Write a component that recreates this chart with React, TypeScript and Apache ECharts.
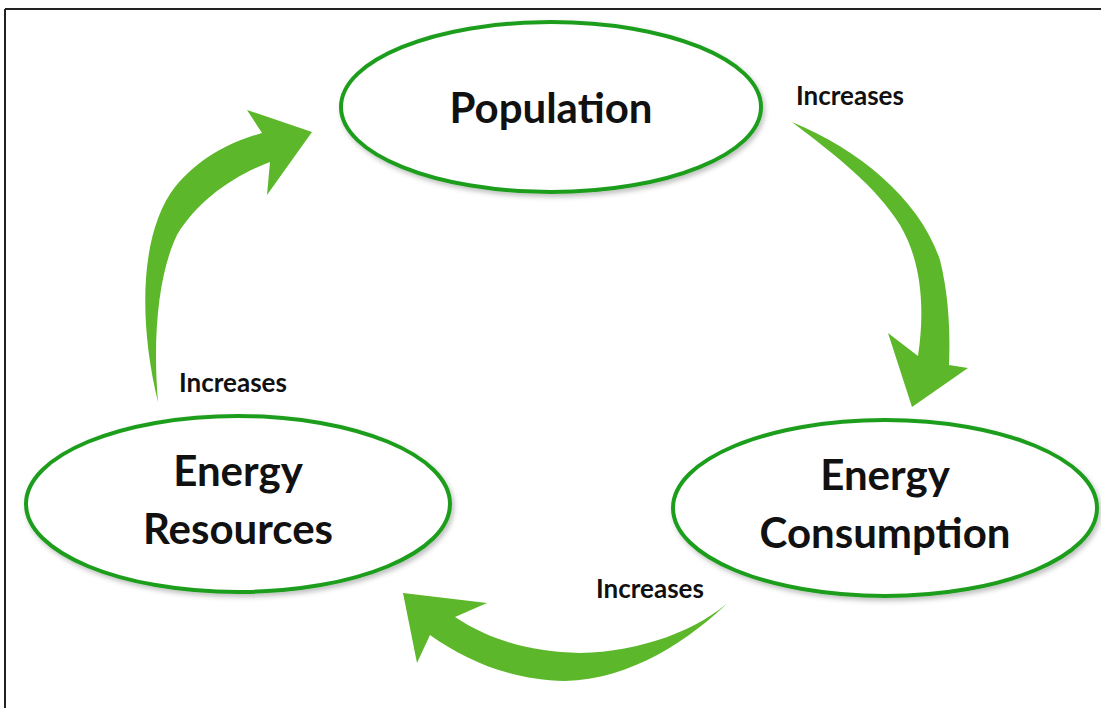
import React, { useEffect, useRef } from "react";
import * as echarts from "echarts";

// Nodes of the cycle
const nodeNames = ["Population", "Energy\nConsumption", "Energy\nResources"];
const nodeCenters = [
  [551, 107],
  [885, 508],
  [238, 504],
];
const nodeRadii = [
  [210, 85],
  [212, 88],
  [212, 88],
];
// Edge labels
const edgeLabels = ["Increases", "Increases", "Increases"];
const edgeLabelPos = [
  [850, 95],
  [650, 588],
  [233, 382],
];
// Arrow outlines (SVG paths)
const arrowPaths = [
  "M792,122 C860,150 920,200 940,260 C950,300 950,340 949,365 L968,368 L912,407 L888,333 L918,356 C925,310 922,262 900,225 C875,185 835,155 792,122 Z",
  "M733,598 C690,640 630,680 565,681 C510,680 465,660 430,635 L417,663 L403,593 L487,603 L455,617 C490,640 530,652 580,653 C640,652 700,630 733,598 Z",
  "M158,402 C138,320 140,232 175,187 C200,157 230,142 262,133 L247,110 L312,132 L267,195 L270,162 C235,175 198,200 177,235 C160,270 152,330 158,402 Z",
];

const GREEN_LINE = "#1f9e1f";
const GREEN_ARROW = "#5cb82a";
const FONT = "Lato";

export default function App() {
  const ref = useRef<HTMLDivElement>(null);
  useEffect(() => {
    if (!ref.current) return;
    arrowPaths.forEach((d, i) => {
      echarts.graphic.registerShape("arrow" + i, echarts.graphic.extendPath(d, {}) as any);
    });
    const chart = echarts.init(ref.current, undefined, { renderer: "svg" });
    const elements: any[] = [];
    // frame (top and left edges)
    elements.push({
      type: "line",
      shape: { x1: 5, y1: 9, x2: 1101, y2: 9 },
      style: { stroke: "#222", lineWidth: 2 },
    });
    elements.push({
      type: "line",
      shape: { x1: 5, y1: 9, x2: 5, y2: 708 },
      style: { stroke: "#222", lineWidth: 2 },
    });
    arrowPaths.forEach((_, i) => {
      elements.push({
        type: "arrow" + i,
        x: 0,
        y: 0,
        style: { fill: GREEN_ARROW, stroke: "none" },
      });
    });
    nodeNames.forEach((name, i) => {
      const [cx, cy] = nodeCenters[i];
      const [rx, ry] = nodeRadii[i];
      elements.push({
        type: "ellipse",
        shape: { cx, cy, rx, ry },
        style: {
          fill: "#fff",
          stroke: GREEN_LINE,
          lineWidth: 4,
          shadowBlur: 5,
          shadowColor: "rgba(0,0,0,0.25)",
          shadowOffsetX: 2,
          shadowOffsetY: 3,
        },
      });
      const lines = name.split("\n");
      lines.forEach((ln, j) => {
        const y = lines.length === 1 ? cy : cy - 34 + j * 58;
        elements.push({
          type: "text",
          x: cx,
          y,
          style: {
            text: ln,
            fill: "#111",
            font: `bold 42px ${FONT}`,
            textAlign: "center",
            textVerticalAlign: "middle",
          },
        });
      });
    });
    edgeLabels.forEach((t, i) => {
      elements.push({
        type: "text",
        x: edgeLabelPos[i][0],
        y: edgeLabelPos[i][1],
        style: {
          text: t,
          fill: "#111",
          font: `bold 26px ${FONT}`,
          textAlign: "center",
          textVerticalAlign: "middle",
        },
      });
    });
    chart.setOption({
      animation: false,
      backgroundColor: "#fff",
      graphic: { elements },
    });
    return () => chart.dispose();
  }, []);
  return (
    <div
      ref={ref}
      style={{ position: "fixed", left: 0, top: 0, width: 1101, height: 708 }}
    />
  );
}
